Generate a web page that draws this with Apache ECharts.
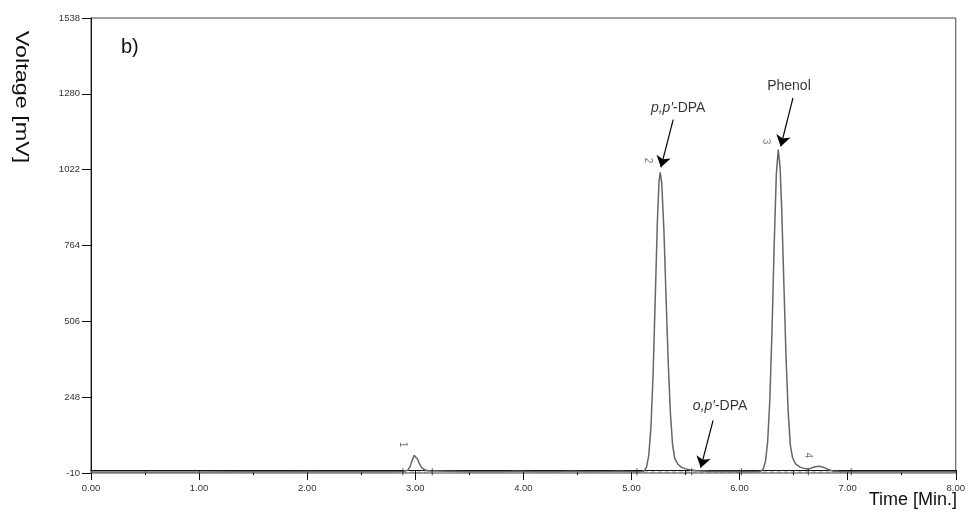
<!DOCTYPE html>
<html><head><meta charset="utf-8">
<script src="https://cdn.jsdelivr.net/npm/echarts@6/dist/echarts.min.js"></script>
<style>html,body{margin:0;padding:0;background:#fff}#c{width:968px;height:513px}</style>
</head><body><div id="c"></div>
<script>
// ---- data (time [min], voltage [mV]) ----
const yTickValues = [-10, 248, 506, 764, 1022, 1280, 1538];
const xTickValues = [0, 1, 2, 3, 4, 5, 6, 7, 8];

const baselineStart = [[0,-7],[0.5,-7],[1.0,-7],[1.4,-6],[1.8,-6],[2.0,-5],[2.2,-6],[2.5,-6],[2.8,-6],[2.88,-5]];
const peak1 = [[2.93,-1],[2.95,10],[2.97,32],[2.99,50],[3.005,49],[3.02,38],[3.04,20],[3.06,8],[3.09,0],[3.13,-3]];
const midBaseline = [[3.2,-3],[3.3,-4],[3.5,-6],[3.8,-6],[3.95,-4],[4.1,-6],[4.3,-6],[4.45,-4],[4.6,-6],[4.8,-5],[4.9,-4],[5.0,-6],[5.05,-6]];
const peak2 = [[5.10,-5],[5.12,-2],[5.14,11],[5.16,50],[5.18,145],[5.20,325],[5.22,585],[5.24,850],[5.255,982],[5.266,1013],[5.28,977],[5.30,817],[5.32,588],[5.34,366],[5.36,194],[5.38,87],[5.40,40],[5.43,20],[5.46,10],[5.50,4],[5.55,0],[5.60,-2]];
const valley = [[5.70,-4],[5.80,-5],[5.90,-5],[6.00,-5],[6.10,-6],[6.18,-5]];
const peak3 = [[6.20,-3],[6.22,5],[6.24,30],[6.26,97],[6.28,239],[6.30,472],[6.32,762],[6.34,1006],[6.358,1090],[6.375,1029],[6.39,887],[6.41,632],[6.43,384],[6.45,197],[6.47,84],[6.49,42],[6.52,20],[6.56,10],[6.60,5]];
const peak4 = [[6.64,4],[6.66,6],[6.70,11],[6.74,13],[6.78,9],[6.82,2],[6.86,-3],[6.92,-5]];
const baselineEnd = [[7.0,-6],[7.5,-6],[8.0,-6]];

const integrationBaselines = [[[2.885,-7],[3.157,-7]], [[5.05,-7],[6.95,-7]]];
const integrationMarks = [[2.885,-6],[3.157,-6],[5.05,-6],[5.558,-6],[6.017,-6],[6.636,-6],[7.033,-6]];

const peakNumbers = [['1',2.88,87],['2',5.146,1053],['3',6.245,1118],['4',6.633,50]];
const compoundNames = [['{i|p,p′}-DPA',5.432,1230],['Phenol',6.457,1305],['{i|o,p′}-DPA',5.82,216]];
const arrows = [[[5.386,1192],[5.272,1030]], [[6.494,1266],[6.381,1101]], [[5.755,169],[5.641,8]]];

const signal = [].concat(baselineStart, peak1, midBaseline, peak2, valley, peak3, peak4, baselineEnd);

// ---- chart ----
const FONT = 'Liberation Sans';
const chart = echarts.init(document.getElementById('c'), null, {renderer: 'canvas'});
const series = [
  {
    type: 'line', data: signal, showSymbol: false, symbol: 'none', smooth: false,
    lineStyle: {color: '#666', width: 1.5}, z: 3, animation: false
  }
];
integrationBaselines.forEach(seg => series.push({
  type: 'line', data: seg, showSymbol: false, symbol: 'none',
  lineStyle: {color: '#777', width: 1, type: [4, 3]}, z: 2, animation: false
}));
series.push({
  type: 'scatter', data: integrationMarks, symbol: 'rect', symbolSize: [1, 7],
  itemStyle: {color: '#222'}, z: 4, animation: false
});
series.push({
  type: 'scatter', data: peakNumbers.map(p => ({value: [p[1], p[2]], name: p[0]})),
  symbolSize: 0, animation: false,
  label: {show: true, position: 'inside', formatter: p => p.name, rotate: -90,
    fontFamily: FONT, fontSize: 10, color: '#555'}
});
series.push({
  type: 'scatter', data: compoundNames.map(p => ({value: [p[1], p[2]], name: p[0]})),
  symbolSize: 0, animation: false,
  label: {show: true, position: 'inside', formatter: p => p.name,
    fontFamily: FONT, fontSize: 14, color: '#000', textBorderWidth: 0,
    rich: {i: {fontFamily: FONT, fontSize: 14, fontStyle: 'italic', color: '#000', textBorderWidth: 0}}}
});
series.push({
  type: 'lines', coordinateSystem: 'cartesian2d', animation: false,
  data: arrows.map(a => ({coords: a})),
  symbol: ['none', 'arrow'], symbolSize: [4, 11],
  lineStyle: {color: '#000', width: 1.2, opacity: 1}, z: 5
});

chart.setOption({
  animation: false,
  backgroundColor: '#fff',
  grid: {left: 91, right: 11, top: 18, bottom: 40, show: true, borderColor: '#444', borderWidth: 1},
  xAxis: {
    type: 'value', min: 0, max: 8, interval: 1,
    axisLine: {lineStyle: {color: '#111', width: 1}},
    axisTick: {length: 10, lineStyle: {color: '#111'}},
    minorTick: {show: true, splitNumber: 2, length: 5, lineStyle: {color: '#111'}},
    splitLine: {show: false},
    axisLabel: {formatter: v => v.toFixed(2), fontFamily: FONT, fontSize: 9.5, color: '#333', margin: 10}
  },
  yAxis: {
    type: 'value', min: -10, max: 1538,
    axisLine: {show: true, lineStyle: {color: '#111', width: 1}},
    axisTick: {show: true, length: 9, customValues: yTickValues, lineStyle: {color: '#111'}},
    splitLine: {show: false},
    axisLabel: {customValues: yTickValues, formatter: v => String(v), fontFamily: FONT, fontSize: 9.5, color: '#333', margin: 11}
  },
  series: series,
  graphic: [
    {type: 'text', x: 21, y: 97, rotation: -Math.PI / 2, scaleX: 1.3,
      style: {text: 'Voltage [mV]', font: '18px "Liberation Sans"', fill: '#111', align: 'center', verticalAlign: 'middle'}},
    {type: 'text', x: 957, y: 500,
      style: {text: 'Time [Min.]', font: '18px "Liberation Sans"', fill: '#111', align: 'right', verticalAlign: 'middle'}},
    {type: 'text', x: 121, y: 47,
      style: {text: 'b)', font: '20px "Liberation Sans"', fill: '#111', align: 'left', verticalAlign: 'middle'}}
  ]
});
</script>
</body></html>
